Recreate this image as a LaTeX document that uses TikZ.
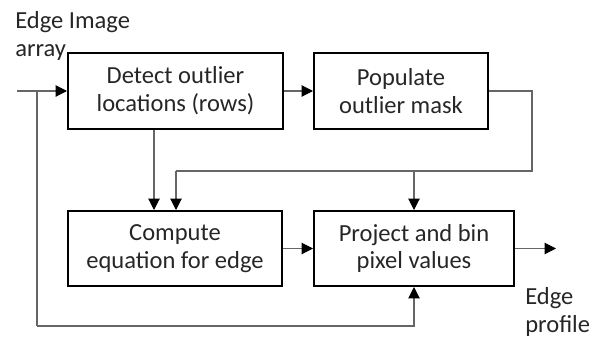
\documentclass[tikz,border=0pt]{standalone}
\usepackage{fontspec}
\setmainfont{Carlito}
\usetikzlibrary{arrows.meta,calc}
\begin{document}
\begin{tikzpicture}[x=0.75pt,y=-0.75pt,
  font=\fontsize{18.4}{20.8}\selectfont,
  box/.style={draw=black,line width=1.5pt,align=center,inner sep=0pt,text=black!85},
  wire/.style={draw=black!60,line width=0.8pt},
  arr/.style={wire,-{Triangle[length=8.5pt,width=8.5pt,color=black]}},
  lbl/.style={align=left,anchor=west,inner sep=0pt,text=black!85}]
\useasboundingbox (0,0) rectangle (595,339);
\node[box,minimum width=161.25pt,minimum height=57pt] (b1) at (175.5,91) {Detect outlier\\locations (rows)};
\node[box,minimum width=130.5pt,minimum height=57pt] (b2) at (401,91) {Populate\\outlier mask};
\node[box,minimum width=160.5pt,minimum height=56.25pt] (b3) at (175,248.5) {Compute\\equation for edge};
\node[box,minimum width=150pt,minimum height=56.25pt] (b4) at (414,248.5) {Project and bin\\pixel values};
\node[lbl] (tin) at (15,36) {Edge Image\\array};
\node[lbl] (tout) at (525,312) {Edge\\profile};
\coordinate (in) at (17,91);
\coordinate (fb) at (37,91);
\coordinate (fbb) at (37,326);
\coordinate (c1) at (154,0);
\coordinate (r1) at (532,91);
\coordinate (r2) at (532,171);
\coordinate (c2) at (176,171);
\coordinate (t) at (414,171);
\coordinate (out) at (556,248.5);
\draw[arr] (in) -- (b1.west);
\draw[wire] (fb) -- (fbb);
\draw[arr] (fbb) -| (b4.south);
\draw[arr] (b1.east) -- (b2.west);
\draw[arr] (b1.south -| c1) -- (b3.north -| c1);
\draw[wire] (b2.east) -- (r1) -- (r2) -- (c2);
\draw[arr] (c2) -- (b3.north -| c2);
\draw[arr] (t) -- (b4.north);
\draw[arr] (b3.east) -- (b4.west);
\draw[arr] (b4.east) -- (out);
\end{tikzpicture}
\end{document}
